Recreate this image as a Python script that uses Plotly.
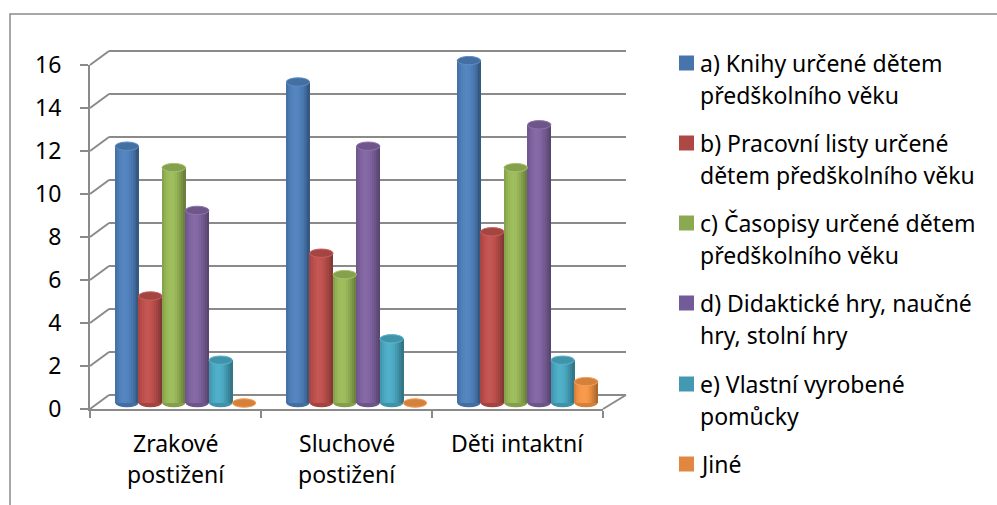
import math
import plotly.graph_objects as go

W, H = 997, 505

# ---------------- data ----------------
categories = [["Zrakové", "postižení"], ["Sluchové", "postižení"], ["Děti intaktní"]]
series_names = [
    "a) Knihy určené dětem předškolního věku",
    "b) Pracovní listy určené dětem předškolního věku",
    "c) Časopisy určené dětem předškolního věku",
    "d) Didaktické hry, naučné hry, stolní hry",
    "e) Vlastní vyrobené pomůcky",
    "Jiné",
]
legend_lines = [
    ["a) Knihy určené dětem", "předškolního věku"],
    ["b) Pracovní listy určené", "dětem předškolního věku"],
    ["c) Časopisy určené dětem", "předškolního věku"],
    ["d) Didaktické hry, naučné", "hry, stolní hry"],
    ["e) Vlastní vyrobené", "pomůcky"],
    ["Jiné"],
]
knihy = [12, 15, 16]
pracovni_listy = [5, 7, 8]
casopisy = [11, 6, 11]
didakticke_hry = [9, 12, 13]
vlastni_pomucky = [2, 3, 2]
jine = [0, 0, 1]
series_values = [knihy, pracovni_listy, casopisy, didakticke_hry, vlastni_pomucky, jine]
y_ticks = [0, 2, 4, 6, 8, 10, 12, 14, 16]

bar_colors = ["#4F81BD", "#C0504D", "#9BBB59", "#8064A2", "#4BACC6", "#F79646"]
legend_colors = ["#4674AB", "#AD4844", "#8BA951", "#735A98", "#4499B2", "#E0883F"]

FONT = "Noto Sans"
FS = 23
GRID = "#8A8A8A"

# ---------------- geometry (pixels) ----------------
def px(x):
    return x / W

def py(y):
    return 1 - y / H

UNIT = 21.5                      # px per value unit on walls
FX0, FX1, FY0 = 90, 603, 409     # front frame
BX0, BX1, BY0 = 109, 626, 395    # back wall
BAR_UNIT = 21.4
BAR_Y0 = 403
BAR_X0, BAR_X1 = 100, 613
BW = 0.137                       # bar width (category units)
NSTRIP = 12

def hex2rgb(h):
    h = h.lstrip("#")
    return tuple(int(h[i:i + 2], 16) for i in (0, 2, 4))

def shade(h, b):
    r, g, bl = hex2rgb(h)
    if b >= 1:
        t = min(b - 1, 1)
        r, g, bl = [c + (255 - c) * t for c in (r, g, bl)]
    else:
        r, g, bl = [c * b for c in (r, g, bl)]
    return "rgb(%d,%d,%d)" % (round(r), round(g), round(bl))

def profile(t):
    return 0.72 + 0.32 * math.cos((t - 0.40) * math.pi * 0.95)

fig = go.Figure()

# empty traces so wall / frame subplots exist
fig.add_trace(go.Scatter(x=[None], y=[None], xaxis="x", yaxis="y", showlegend=False))
fig.add_trace(go.Scatter(x=[None], y=[None], xaxis="x2", yaxis="y2", showlegend=False))

ncat = len(categories)
nser = len(series_values)
shapes = []
for j, vals in enumerate(series_values):
    offs = (j - (nser - 1) / 2) * BW
    for k in range(NSTRIP):
        t = (k + 0.5) / NSTRIP
        xs = [i + offs - BW / 2 + t * BW for i in range(ncat)]
        fig.add_trace(go.Bar(
            x=xs, y=vals, width=BW / NSTRIP * 1.25,
            marker=dict(color=shade(bar_colors[j], profile(t)), line=dict(width=0)),
            xaxis="x3", yaxis="y3", showlegend=False, hoverinfo="skip",
        ))
    eh = 4.2 / BAR_UNIT
    for i, v in enumerate(vals):
        cx = i + offs
        # bottom ellipse
        shapes.append(dict(type="circle", xref="x3", yref="y3", layer="below",
                           x0=cx - BW / 2, x1=cx + BW / 2, y0=-eh, y1=eh,
                           fillcolor=shade(bar_colors[j], 0.85), line=dict(width=0)))
        # top ellipse
        shapes.append(dict(type="circle", xref="x3", yref="y3", layer="above",
                           x0=cx - BW / 2, x1=cx + BW / 2, y0=v - eh, y1=v + eh,
                           fillcolor=shade(bar_colors[j], 0.86),
                           line=dict(width=1, color=shade(bar_colors[j], 1.1))))

# left wall diagonals (front tick -> back gridline)
for v in y_ticks:
    shapes.append(dict(type="line", xref="paper", yref="paper",
                       x0=px(FX0), y0=py(FY0 - UNIT * v), x1=px(BX0), y1=py(BY0 - UNIT * v),
                       line=dict(color=GRID, width=2), layer="below"))
# right floor diagonal
shapes.append(dict(type="line", xref="paper", yref="paper",
                   x0=px(FX1), y0=py(FY0), x1=px(BX1), y1=py(BY0),
                   line=dict(color=GRID, width=2), layer="below"))
# outer border
shapes.append(dict(type="rect", xref="paper", yref="paper",
                   x0=px(10), y0=py(14), x1=px(1010), y1=py(520),
                   line=dict(color="#8A8A8A", width=1.5), layer="below"))

annotations = []
# category labels
cat_line_y = [443, 474]
for i, lines in enumerate(categories):
    for li, txt in enumerate(lines):
        annotations.append(dict(xref="x2", yref="paper", x=i, y=py(cat_line_y[li]),
                                text=txt, showarrow=False, xanchor="center", yanchor="middle",
                                font=dict(family=FONT, size=FS, color="#000")))

# legend
leg_y = [63, 143, 223, 303, 384, 464]
for j, lines in enumerate(legend_lines):
    yc = leg_y[j]
    shapes.append(dict(type="rect", xref="paper", yref="paper",
                       x0=px(679), x1=px(694), y0=py(yc - 7.5), y1=py(yc + 7.5),
                       fillcolor=legend_colors[j], line=dict(width=0)))
    for li, txt in enumerate(lines):
        annotations.append(dict(xref="paper", yref="paper", x=px(698), y=py(yc + 32 * li),
                                text=txt, showarrow=False, xanchor="left", yanchor="middle",
                                font=dict(family=FONT, size=FS, color="#000")))

# axis domains
back_lo, back_hi = -0.3, 16.3
bar_lo, bar_hi = -1.0, 17.0

fig.update_layout(
    width=W, height=H,
    margin=dict(l=0, r=0, t=0, b=0, pad=0, autoexpand=False),
    paper_bgcolor="white", plot_bgcolor="rgba(0,0,0,0)",
    barmode="overlay", bargap=0,
    showlegend=False, hovermode=False,
    font=dict(family=FONT, color="#000"),
    shapes=shapes, annotations=annotations,
    # back wall
    xaxis=dict(domain=[px(BX0), px(BX1)], range=[0, 1], visible=False, fixedrange=True),
    yaxis=dict(domain=[py(BY0 - UNIT * back_lo), py(BY0 - UNIT * back_hi)],
               range=[back_lo, back_hi], tickvals=y_ticks, showgrid=True,
               gridcolor=GRID, gridwidth=2, zeroline=False, showticklabels=False,
               ticks="", showline=False, fixedrange=True, automargin=False),
    # front frame
    xaxis2=dict(domain=[px(FX0), px(FX1)], range=[-0.5, 2.5], anchor="y2",
                tickvals=[-0.5, 0.5, 1.5, 2.5], ticks="outside", ticklen=7, tickwidth=2,
                tickcolor=GRID, showline=True, linecolor=GRID, linewidth=2,
                showgrid=False, zeroline=False, showticklabels=False, fixedrange=True,
                automargin=False),
    yaxis2=dict(domain=[py(FY0), py(FY0 - UNIT * 16)], range=[0, 16], anchor="x2",
                tickvals=y_ticks, ticks="outside", ticklen=8, tickwidth=2, tickcolor=GRID,
                showline=True, linecolor=GRID, linewidth=2, showgrid=False, zeroline=False,
                tickfont=dict(family=FONT, size=FS, color="#000"), ticklabelstandoff=14,
                fixedrange=True, automargin=False),
    # bars
    xaxis3=dict(domain=[px(BAR_X0), px(BAR_X1)], range=[-0.5, 2.5], anchor="y3",
                visible=False, fixedrange=True),
    yaxis3=dict(domain=[py(BAR_Y0 - BAR_UNIT * bar_lo), py(BAR_Y0 - BAR_UNIT * bar_hi)],
                range=[bar_lo, bar_hi], anchor="x3", visible=False, fixedrange=True),
)

fig.write_html("out.html", config={"displayModeBar": False})
